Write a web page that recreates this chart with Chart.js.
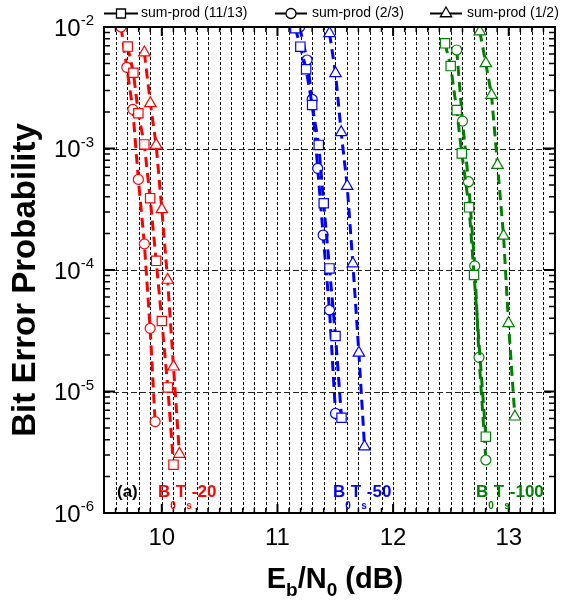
<!DOCTYPE html>
<html>
<head>
<meta charset="utf-8">
<script src="https://cdn.jsdelivr.net/npm/chart.js@4.4.1/dist/chart.umd.min.js"></script>
<style>
  html, body { margin: 0; padding: 0; background: #ffffff; }
  #wrap { width: 563px; height: 605px; position: relative; }
</style>
</head>
<body>
<div id="wrap"><canvas id="ber" width="563" height="605"></canvas></div>
<script>
const FONT = '"Liberation Sans", Arial, Helvetica, sans-serif';

// B0Ts = -20 (red)
const ebn0_20_r1113 = [9.705, 9.754, 9.797, 9.849, 9.899, 9.951, 10.000, 10.052, 10.101];
const ber_20_r1113  = [6.9e-3, 4.2e-3, 1.95e-3, 1.08e-3, 3.9e-4, 1.19e-4, 3.8e-5, 1.08e-5, 2.5e-6];
const ebn0_20_r23   = [9.647, 9.697, 9.749, 9.797, 9.849, 9.899, 9.942];
const ber_20_r23    = [1.0e-2, 4.66e-3, 2.1e-3, 5.57e-4, 1.64e-4, 3.31e-5, 5.65e-6];
const ebn0_20_r12   = [9.849, 9.901, 9.951, 10.000, 10.050, 10.101, 10.152];
const ber_20_r12    = [6.15e-3, 2.35e-3, 1.07e-3, 3.16e-4, 8.28e-5, 1.6e-5, 3.06e-6];

// B0Ts = -50 (blue)
const ebn0_50_r1113 = [11.155, 11.198, 11.248, 11.300, 11.357, 11.400, 11.450, 11.502, 11.554];
const ber_50_r1113  = [9.76e-3, 6.89e-3, 4.49e-3, 2.28e-3, 1.07e-3, 3.54e-4, 1.03e-4, 2.86e-5, 6.08e-6];
const ebn0_50_r23   = [11.192, 11.256, 11.300, 11.348, 11.395, 11.450, 11.502];
const ber_50_r23    = [1.0e-2, 5.35e-3, 2.54e-3, 6.87e-4, 1.94e-4, 4.69e-5, 6.6e-6];
const ebn0_50_r12   = [11.450, 11.502, 11.551, 11.603, 11.652, 11.704, 11.753];
const ber_50_r12    = [8.87e-3, 4.16e-3, 1.36e-3, 4.91e-4, 1.13e-4, 2.08e-5, 3.52e-6];

// B0Ts = -100 (green)
const ebn0_100_r1113 = [12.449, 12.498, 12.550, 12.594, 12.657, 12.700, 12.802];
const ber_100_r1113  = [7.34e-3, 4.77e-3, 2.07e-3, 9.12e-4, 3.28e-4, 9.1e-5, 4.25e-6];
const ebn0_100_r23   = [12.550, 12.600, 12.652, 12.706, 12.743, 12.802];
const ber_100_r23    = [6.47e-3, 1.68e-3, 5.33e-4, 1.08e-4, 1.91e-5, 2.73e-6];
const ebn0_100_r12   = [12.750, 12.802, 12.851, 12.903, 12.955, 12.998, 13.053];
const ber_100_r12    = [9.16e-3, 5.02e-3, 2.75e-3, 7.31e-4, 1.91e-4, 3.64e-5, 6.2e-6];

const codeLabels  = ['sum-prod (11/13)', 'sum-prod (2/3)', 'sum-prod (1/2)'];
const bandLabels  = ['-20', '-50', '-100'];
const xTickLabels = [10, 11, 12, 13];
const yDecades    = [-6, -5, -4, -3, -2];

const bandColors  = ['#ff0000', '#0000ff', '#008000'];
const markerStyle = ['rect', 'circle', 'triangle'];
const markerSize  = [6.6, 5, 6.6];

const series = [
  [[ebn0_20_r1113, ber_20_r1113], [ebn0_20_r23, ber_20_r23], [ebn0_20_r12, ber_20_r12]],
  [[ebn0_50_r1113, ber_50_r1113], [ebn0_50_r23, ber_50_r23], [ebn0_50_r12, ber_50_r12]],
  [[ebn0_100_r1113, ber_100_r1113], [ebn0_100_r23, ber_100_r23], [ebn0_100_r12, ber_100_r12]]
];

const datasets = [];
series.forEach((band, b) => {
  band.forEach(([xs, ys], r) => {
    datasets.push({
      label: codeLabels[r] + ' B0Ts' + bandLabels[b],
      data: xs.map((x, i) => ({ x: x, y: ys[i] })),
      borderColor: bandColors[b],
      borderWidth: 3,
      borderDash: [10, 6],
      borderCapStyle: 'butt',
      tension: 0,
      fill: false,
      pointStyle: markerStyle[r],
      pointRadius: markerSize[r],
      pointBorderColor: bandColors[b],
      pointBackgroundColor: '#ffffff',
      pointBorderWidth: 1.2,
      clip: 0
    });
  });
});

// draws one hollow legend symbol
function symbol(ctx, style, x, y) {
  ctx.beginPath();
  if (style === 'rect') {
    ctx.rect(x - 4.5, y - 4.5, 9, 9);
  } else if (style === 'circle') {
    ctx.arc(x, y, 5, 0, Math.PI * 2);
  } else {
    const r = 6.5;
    ctx.moveTo(x, y - r);
    ctx.lineTo(x + r * 0.866, y + r * 0.5);
    ctx.lineTo(x - r * 0.866, y + r * 0.5);
    ctx.closePath();
  }
  ctx.fill();
  ctx.stroke();
}

// writes a sequence of [text, fontSize, dy] pieces left to right
function runText(ctx, parts, x, y, color) {
  ctx.fillStyle = color;
  ctx.textBaseline = 'alphabetic';
  ctx.textAlign = 'left';
  let cx = x;
  parts.forEach(([t, size, dy]) => {
    ctx.font = 'bold ' + size + 'px ' + FONT;
    ctx.fillText(t, cx, y + dy);
    cx += ctx.measureText(t).width;
  });
  return cx - x;
}
function runWidth(ctx, parts) {
  let w = 0;
  parts.forEach(([t, size]) => {
    ctx.font = 'bold ' + size + 'px ' + FONT;
    w += ctx.measureText(t).width;
  });
  return w;
}

const axesPlugin = {
  id: 'axesFrame',
  beforeDatasetsDraw(chart) {
    const { ctx, chartArea: a, scales: { x, y } } = chart;
    ctx.save();
    ctx.lineWidth = 1;
    // vertical dotted grid every 0.1 dB
    ctx.strokeStyle = '#000000';
    ctx.setLineDash([3, 2]);
    for (let k = 96; k <= 133; k++) {
      const px = Math.round(x.getPixelForValue(k / 10)) + 0.5;
      ctx.beginPath();
      ctx.moveTo(px, a.top);
      ctx.lineTo(px, a.bottom);
      ctx.stroke();
    }
    // horizontal dashed grid at each decade
    ctx.strokeStyle = '#222222';
    ctx.setLineDash([6, 3]);
    for (let d = -5; d <= -3; d++) {
      const py = Math.round(y.getPixelForValue(Math.pow(10, d))) + 0.5;
      ctx.beginPath();
      ctx.moveTo(a.left, py);
      ctx.lineTo(a.right, py);
      ctx.stroke();
    }
    ctx.restore();
  },
  afterDatasetsDraw(chart) {
    const { ctx, chartArea: a, scales: { x, y } } = chart;
    ctx.save();
    ctx.strokeStyle = '#000000';
    ctx.setLineDash([]);
    // ticks on bottom and top
    for (let k = 95; k <= 134; k++) {
      const major = k % 10 === 0;
      const px = x.getPixelForValue(k / 10);
      const len = major ? 9 : 5;
      ctx.lineWidth = major ? 2 : 1.5;
      ctx.beginPath();
      ctx.moveTo(px, a.bottom); ctx.lineTo(px, a.bottom - len);
      ctx.moveTo(px, a.top); ctx.lineTo(px, a.top + len);
      ctx.stroke();
    }
    // ticks on left and right
    for (let d = -6; d <= -3; d++) {
      for (let m = 1; m <= 9; m++) {
        const major = m === 1;
        const py = y.getPixelForValue(m * Math.pow(10, d));
        const len = major ? 11 : 6;
        ctx.lineWidth = major ? 2 : 1.5;
        ctx.beginPath();
        ctx.moveTo(a.left, py); ctx.lineTo(a.left + len, py);
        ctx.moveTo(a.right, py); ctx.lineTo(a.right - len, py);
        ctx.stroke();
      }
    }
    // frame
    ctx.lineWidth = 2;
    ctx.strokeRect(a.left, a.top, a.right - a.left, a.bottom - a.top);
    ctx.restore();
  },
  afterDraw(chart) {
    const { ctx, chartArea: a, scales: { x, y } } = chart;
    ctx.save();
    ctx.fillStyle = '#000000';

    // x tick labels
    ctx.font = '24px ' + FONT;
    ctx.textAlign = 'center';
    ctx.textBaseline = 'alphabetic';
    xTickLabels.forEach(v => {
      ctx.fillText(String(v), x.getPixelForValue(v), 545);
    });

    // y tick labels as 10 with a raised exponent
    yDecades.forEach(d => {
      const py = y.getPixelForValue(Math.pow(10, d));
      const expTxt = String(d);
      ctx.font = '15px ' + FONT;
      const ew = ctx.measureText(expTxt).width;
      ctx.textAlign = 'left';
      const ex = 94 - ew;
      ctx.fillText(expTxt, ex, py - 2);
      ctx.font = '24px ' + FONT;
      ctx.textAlign = 'right';
      ctx.fillText('10', ex, py + 8.6);
    });

    // x axis title
    const xt = [['E', 29, 0], ['b', 19, 8], ['/N', 29, 0], ['0', 19, 8], [' (dB)', 29, 0]];
    const xw = runWidth(ctx, xt);
    runText(ctx, xt, 335 - xw / 2, 588, '#000000');

    // y axis title
    ctx.save();
    ctx.translate(26, 280);
    ctx.rotate(-Math.PI / 2);
    ctx.font = 'bold 33px ' + FONT;
    ctx.textAlign = 'center';
    ctx.textBaseline = 'middle';
    ctx.fillStyle = '#000000';
    ctx.fillText('Bit Error Probability', 0, 0);
    ctx.restore();

    // panel tag and B0Ts labels
    runText(ctx, [['(a)', 17, 0]], 117, 497, '#000000');
    const bx = [158, 333, 476];
    bandLabels.forEach((lab, i) => {
      runText(ctx, [['B', 17, 0], ['0', 10, 12], ['T', 17, 0], ['s', 10, 12], [lab, 17, 0]], bx[i], 497, bandColors[i]);
    });

    // legend
    const lg = [
      { x1: 104, x2: 138, mx: 121, tx: 141 },
      { x1: 275, x2: 307, mx: 291, tx: 312 },
      { x1: 430, x2: 462, mx: 446, tx: 467 }
    ];
    const ly = 13.5;
    lg.forEach((e, i) => {
      ctx.strokeStyle = '#000000';
      ctx.lineWidth = 2;
      ctx.beginPath();
      ctx.moveTo(e.x1, ly); ctx.lineTo(e.x2, ly);
      ctx.stroke();
      ctx.lineWidth = 1.3;
      ctx.fillStyle = '#ffffff';
      symbol(ctx, markerStyle[i], e.mx, ly);
      ctx.fillStyle = '#000000';
      ctx.font = '14px ' + FONT;
      ctx.textAlign = 'left';
      ctx.textBaseline = 'middle';
      ctx.fillText(codeLabels[i], e.tx, ly);
    });
    ctx.restore();
  }
};

new Chart(document.getElementById('ber').getContext('2d'), {
  type: 'line',
  data: { datasets: datasets },
  options: {
    responsive: false,
    animation: false,
    devicePixelRatio: 1,
    events: [],
    layout: { padding: { left: 104, top: 27, right: 8, bottom: 92 } },
    plugins: { legend: { display: false }, tooltip: { enabled: false }, title: { display: false } },
    scales: {
      x: { type: 'linear', min: 9.5, max: 13.4, display: false },
      y: { type: 'logarithmic', min: 1e-6, max: 1e-2, display: false }
    }
  },
  plugins: [axesPlugin]
});
</script>
</body>
</html>
